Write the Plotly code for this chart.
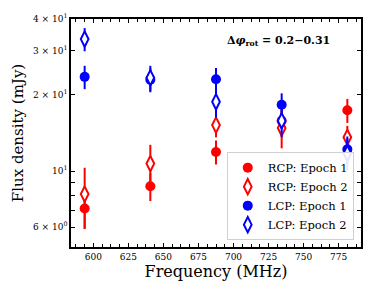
import plotly.graph_objects as go

freq = [593.75, 640.625, 687.5, 734.375, 781.25]

rcp_e1 = [7.1, 8.7, 11.9, 15.8, 17.4]
rcp_e1_err = [1.2, 1.1, 1.3, 2.0, 1.9]
rcp_e2 = [8.1, 10.7, 15.2, 14.8, 13.6]
rcp_e2_err = [2.2, 2.0, 1.6, 2.5, 1.5]
lcp_e1 = [23.6, 23.0, 23.1, 18.3, 12.2]
lcp_e1_err = [2.5, 2.5, 2.5, 2.0, 1.5]
lcp_e2 = [33.3, 23.4, 18.8, 15.8, 11.75]
lcp_e2_err = [3.5, 2.7, 2.5, 2.2, 1.7]

y_tickvals = [6, 7, 8, 9, 10, 20, 30, 40]
y_ticktext = ["6 × 10<sup>0</sup>", "", "", "", "10<sup>1</sup>",
              "2 × 10<sup>1</sup>", "3 × 10<sup>1</sup>", "4 × 10<sup>1</sup>"]

serif = "DejaVu Serif"
RED = "#ff0000"
BLUE = "#0000ff"

fig = go.Figure()

def add(name, y, err, color, filled):
    if filled:
        marker = dict(symbol="circle", size=10, color=color, line=dict(width=0))
    else:
        marker = dict(symbol="diamond-tall", size=11, color="white",
                      line=dict(color=color, width=2))
    fig.add_trace(go.Scatter(
        x=freq, y=y, mode="markers", name=name, marker=marker,
        error_y=dict(type="data", array=err, arrayminus=err, color=color,
                     thickness=2, width=0, visible=True),
    ))

add("RCP: Epoch 1", rcp_e1, rcp_e1_err, RED, True)
add("RCP: Epoch 2", rcp_e2, rcp_e2_err, RED, False)
add("LCP: Epoch 1", lcp_e1, lcp_e1_err, BLUE, True)
add("LCP: Epoch 2", lcp_e2, lcp_e2_err, BLUE, False)

fig.add_annotation(
    x=0.715, y=0.905, xref="paper", yref="paper", showarrow=False,
    xanchor="center", yanchor="middle",
    text="<b>Δ<i>φ</i><sub>rot</sub> = 0.2−0.31</b>",
    font=dict(family=serif, size=11, color="black"),
)

fig.update_layout(
    width=374, height=295,
    margin=dict(l=71, r=13, t=19, b=48, autoexpand=False),
    paper_bgcolor="white", plot_bgcolor="white",
    font=dict(family=serif, color="black"),
    showlegend=True,
    legend=dict(
        x=0.975, y=0.03, xanchor="right", yanchor="bottom",
        bgcolor="rgba(255,255,255,0.9)", bordercolor="#d0d0d0", borderwidth=1,
        font=dict(family=serif, size=11.5, color="black"),
        tracegroupgap=0, itemsizing="trace",
    ),
    xaxis=dict(
        range=[584, 791], showgrid=False, zeroline=False, automargin=False,
        showline=True, linecolor="black", linewidth=1.5, mirror="ticks",
        ticks="inside", ticklen=4, tickwidth=1, tickcolor="black",
        tickmode="array", tickvals=[600, 625, 650, 675, 700, 725, 750, 775],
        tickfont=dict(family=serif, size=9),
        minor=dict(ticks="inside", ticklen=3, tickwidth=1, tickcolor="black", dtick=6.25, tick0=600),
        title=dict(text="Frequency (MHz)", font=dict(family=serif, size=16), standoff=3),
    ),
    yaxis=dict(
        type="log", range=[0.699, 1.602], showgrid=False, zeroline=False, automargin=False,
        showline=True, linecolor="black", linewidth=1.5, mirror="ticks",
        ticks="inside", ticklen=4, tickwidth=1, tickcolor="black",
        tickmode="array", tickvals=y_tickvals, ticktext=y_ticktext,
        tickfont=dict(family=serif, size=9),
        title=dict(text="Flux density (mJy)", font=dict(family=serif, size=15), standoff=6),
    ),
)

fig.write_html("out.html", config={"displayModeBar": False},
               post_script="document.body.style.margin='0px';")
